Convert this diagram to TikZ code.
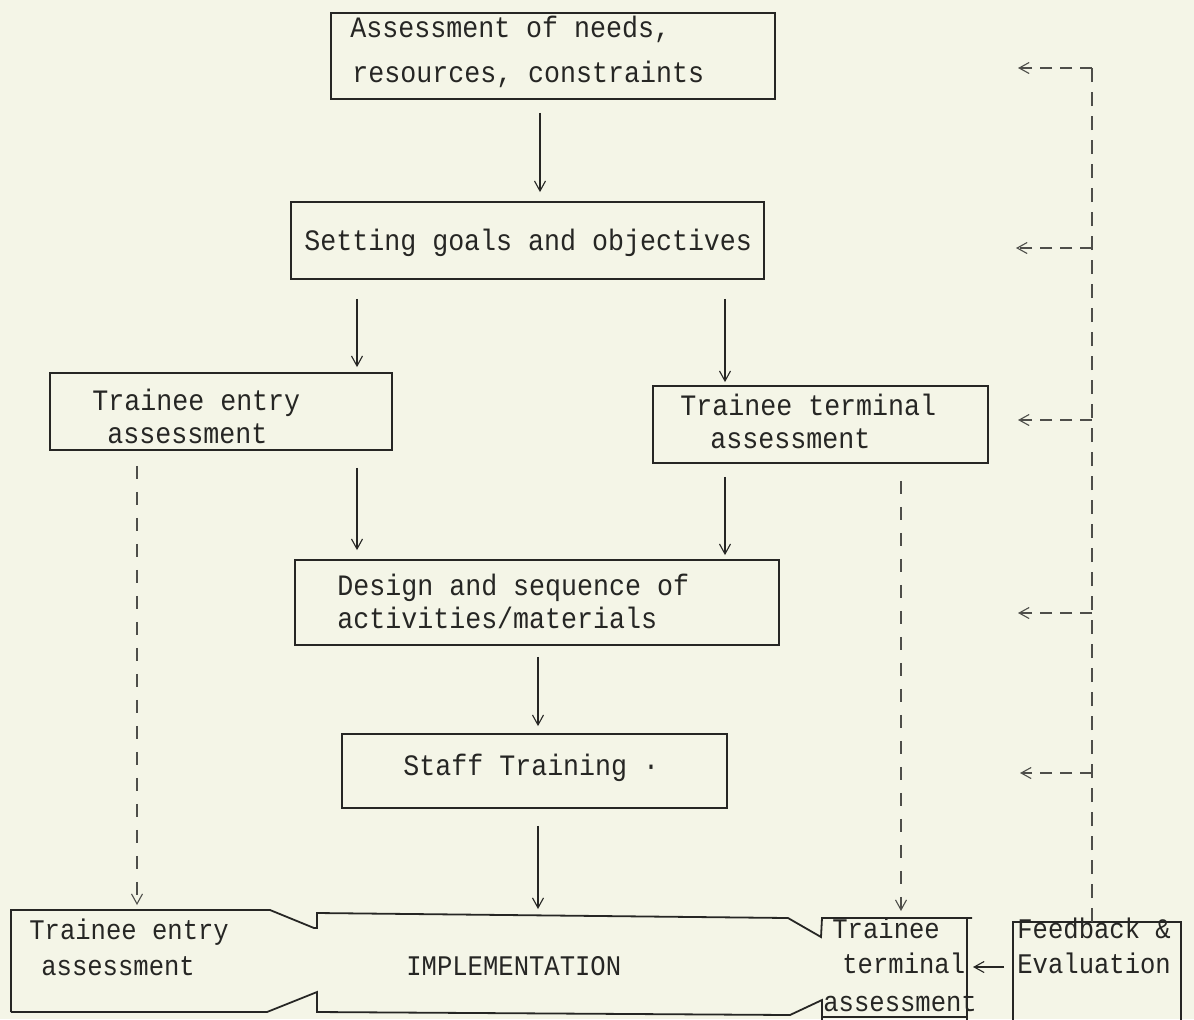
\documentclass[tikz,border=0pt]{standalone}
\usepackage{fontspec}
\usetikzlibrary{arrows.meta,fit}
\newfontfamily\typefont[FakeStretch=0.9]{Liberation Mono}
\definecolor{paper}{RGB}{244,245,231}
\definecolor{ink}{RGB}{38,38,36}
\definecolor{inkdash}{RGB}{78,78,74}

\begin{document}
\begin{tikzpicture}[x=0.5pt,y=-0.5pt,
  box/.style={draw=ink, line width=0.9pt, inner sep=0pt},
  outline/.style={draw=ink, line width=0.9pt, line join=miter},
  txt/.style={anchor=base west, inner sep=0pt, text=ink,
    font=\typefont\fontsize{14.8}{18}\selectfont},
  lowtxt/.style={txt, font=\typefont\fontsize{14.2}{17}\selectfont},
  tip/.style={-{Straight Barb[length=5pt,width=5.5pt]}},
  flow/.style={draw=ink, line width=0.55pt, tip},
  link/.style={draw=inkdash, line width=0.55pt, dash pattern=on 6.5pt off 6.5pt, tip},
  backline/.style={draw=inkdash, line width=0.55pt, dash pattern=on 7pt off 5pt},
  back/.style={draw=inkdash, line width=0.55pt, dash pattern=on 6pt off 4pt, tip},
]
% page
\useasboundingbox (0,0) rectangle (1194,1019);
\clip (0,0) rectangle (1194,1019);
\fill[paper] (0,0) rectangle (1194,1019);

% ---- upper process boxes ----
\node[box, fit={(331,13) (775,99)}]  (assess) {};
\node[box, fit={(291,202) (764,279)}] (goals)  {};
\node[box, fit={(50,373) (392,450)}]  (entry)  {};
\node[box, fit={(653,386) (988,463)}] (term)   {};
\node[box, fit={(295,560) (779,645)}] (design) {};
\node[box, fit={(342,734) (727,808)}] (staff)  {};

\node[txt] (assess-a) at (350,37)  {Assessment of needs,};
\node[txt] (assess-b) at (352,82)  {resources, constraints};
\node[txt] (goals-a)  at (304,250) {Setting goals and objectives};
\node[txt] (entry-a)  at (92,410)  {Trainee entry};
\node[txt] (entry-b)  at (107,443) {assessment};
\node[txt] (term-a)   at (680,415) {Trainee terminal};
\node[txt] (term-b)   at (710,448) {assessment};
\node[txt] (design-a) at (337,595) {Design and sequence of};
\node[txt] (design-b) at (337,628) {activities/materials};
\node[txt] (staff-a)  at (403,775) {Staff Training ·};

% ---- bottom row: entry test, implementation, terminal test ----
\draw[outline] (11,1012) -- (11,910) -- (270,910) -- (314,928) -- (317,928)
  -- (317,913) -- (788,918) -- (821,937) -- (822,918) -- (972,918);
\draw[outline] (967,918) -- (967,1030);
\draw[outline] (11,1012) -- (267,1012) -- (317,992) -- (317,1012)
  -- (790,1015) -- (822,1000) -- (822,1030);
\draw[outline] (822,1017) -- (967,1017);
% feedback box, running off the lower edge
\draw[outline] (1013,1030) -- (1013,922) -- (1181,922) -- (1181,1030);

\node[lowtxt] (entry2-a) at (29,939)   {Trainee entry};
\node[lowtxt] (entry2-b) at (41,975)   {assessment};
\node[lowtxt] (impl)     at (406,975)  {IMPLEMENTATION};
\node[lowtxt] (term2-a)  at (832,938)  {Trainee};
\node[lowtxt] (term2-b)  at (842,973)  {terminal};
\node[lowtxt] (term2-c)  at (823,1011) {assessment};
\node[lowtxt] (fb-a)     at (1017,938) {Feedback \&};
\node[lowtxt] (fb-b)     at (1017,973) {Evaluation};

% anchor points on the bottom outlines
\coordinate (impl-top)   at (538,915);
\coordinate (entry2-top) at (137,910);
\coordinate (term2-top)  at (901,918);
\coordinate (term2-east) at (967,967);
\coordinate (fb-west)    at (1013,967);
\coordinate (fb-top)     at (1092,922);

% vertical lanes
\coordinate (xA) at (540,0);
\coordinate (xB) at (357,0);
\coordinate (xC) at (725,0);
\coordinate (xD) at (538,0);
\coordinate (xE) at (137,0);
\coordinate (xF) at (901,0);

% ---- main flow ----
\draw[flow, shorten <=6.5pt, shorten >=4.5pt] (assess.south -| xA) -- (goals.north -| xA);
\draw[flow, shorten <=9.5pt, shorten >=2.5pt] (goals.south -| xB) -- (entry.north -| xB);
\draw[flow, shorten <=9.5pt, shorten >=1.5pt] (goals.south -| xC) -- (term.north -| xC);
\draw[flow, shorten <=8.5pt, shorten >=4.5pt] (entry.south -| xB) -- (design.north -| xB);
\draw[flow, shorten <=6.5pt, shorten >=2pt]   (term.south -| xC) -- (design.north -| xC);
\draw[flow, shorten <=5.5pt, shorten >=3.5pt] (design.south -| xD) -- (staff.north -| xD);
\draw[flow, shorten <=8.5pt, shorten >=3pt]   (staff.south -| xD) -- (impl-top);

% ---- assessments carried down to the bottom row ----
\draw[link, shorten <=7.5pt, shorten >=2.5pt] (entry.south -| xE) -- (entry2-top);
\draw[link, shorten <=8.5pt, shorten >=3.5pt] (term.south -| xF) -- (term2-top);

% ---- feedback loop ----
\coordinate (fb1) at (1092,68);
\coordinate (fb2) at (1092,248);
\coordinate (fb3) at (1092,420);
\coordinate (fb4) at (1092,613);
\coordinate (fb5) at (1092,773);
\coordinate (tip1) at (1018,68);
\coordinate (tip2) at (1016,248);
\coordinate (tip3) at (1018,420);
\coordinate (tip4) at (1018,613);
\coordinate (tip5) at (1020,773);

\draw[backline] (fb-top) -- (fb1);
\draw[back] (fb1) -- (tip1);
\draw[back] (fb2) -- (tip2);
\draw[back] (fb3) -- (tip3);
\draw[back] (fb4) -- (tip4);
\draw[back] (fb5) -- (tip5);

\draw[flow, shorten <=4.5pt, shorten >=3pt] (fb-west) -- (term2-east);
\end{tikzpicture}
\end{document}
